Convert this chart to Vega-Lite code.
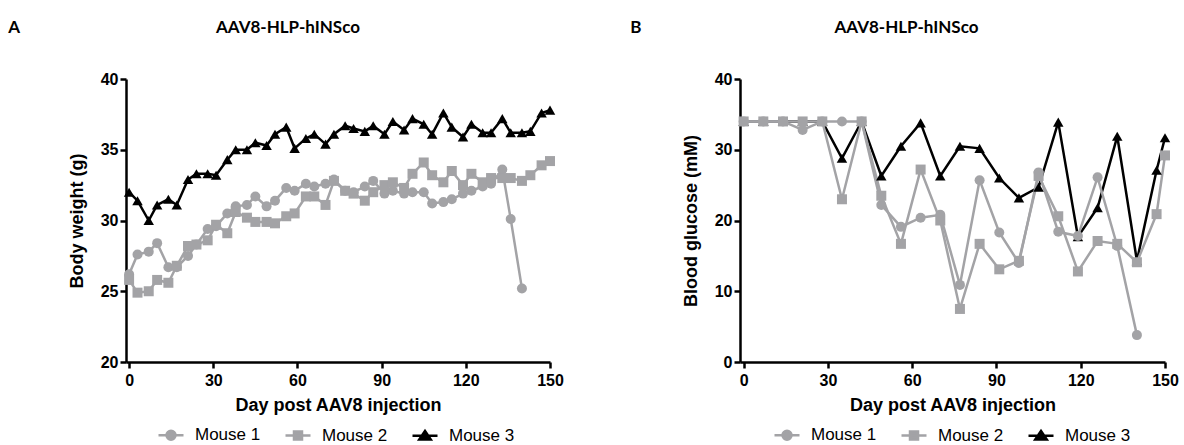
{
  "$schema": "https://vega.github.io/schema/vega-lite/v6.json",
  "padding": {"left": 8, "top": 19, "right": 5, "bottom": 5},
  "background": "white",
  "config": {
    "view": {"stroke": null},
    "font": "Liberation Sans",
    "axis": {
      "grid": false,
      "domainColor": "black", "domainWidth": 2.5,
      "tickColor": "black", "tickWidth": 2.5, "tickSize": 6,
      "labelFont": "Liberation Sans", "labelFontWeight": "bold", "labelFontSize": 16, "labelColor": "black",
      "titleFont": "Liberation Sans", "titleFontWeight": "bold", "titleFontSize": 18, "titleColor": "black"
    },
    "axisX": {"labelPadding": 4, "titlePadding": 8, "labelFlush": false},
    "axisY": {"labelPadding": 2, "titlePadding": 14},
    "legend": {"orient": "none", "direction": "horizontal", "title": null, "padding": 0,
               "symbolSize": 625, "symbolStrokeWidth": 2.5, "labelFontSize": 17, "labelFont": "Liberation Sans", "labelColor": "black",
               "labelOffset": 10, "columnPadding": 19},
    "title": {"font": "Lato", "fontWeight": "bold", "fontSize": 17, "color": "black"}
  },
  "datasets": {
    "weight": [
      {"day": 0, "mouse": "Mouse 3", "value": 32.0}, {"day": 3, "mouse": "Mouse 3", "value": 31.4}, {"day": 7, "mouse": "Mouse 3", "value": 30.0}, {"day": 10, "mouse": "Mouse 3", "value": 31.1}, {"day": 14, "mouse": "Mouse 3", "value": 31.5}, {"day": 17, "mouse": "Mouse 3", "value": 31.1}, {"day": 21, "mouse": "Mouse 3", "value": 32.9}, {"day": 24, "mouse": "Mouse 3", "value": 33.3}, {"day": 28, "mouse": "Mouse 3", "value": 33.3}, {"day": 31, "mouse": "Mouse 3", "value": 33.2}, {"day": 35, "mouse": "Mouse 3", "value": 34.3}, {"day": 38, "mouse": "Mouse 3", "value": 35.0}, {"day": 42, "mouse": "Mouse 3", "value": 35.0}, {"day": 45, "mouse": "Mouse 3", "value": 35.5}, {"day": 49, "mouse": "Mouse 3", "value": 35.3}, {"day": 52, "mouse": "Mouse 3", "value": 36.1}, {"day": 56, "mouse": "Mouse 3", "value": 36.6}, {"day": 59, "mouse": "Mouse 3", "value": 35.1}, {"day": 63, "mouse": "Mouse 3", "value": 35.8}, {"day": 66, "mouse": "Mouse 3", "value": 36.1}, {"day": 70, "mouse": "Mouse 3", "value": 35.4}, {"day": 73, "mouse": "Mouse 3", "value": 36.1}, {"day": 77, "mouse": "Mouse 3", "value": 36.7}, {"day": 80, "mouse": "Mouse 3", "value": 36.5}, {"day": 84, "mouse": "Mouse 3", "value": 36.3}, {"day": 87, "mouse": "Mouse 3", "value": 36.7}, {"day": 91, "mouse": "Mouse 3", "value": 36.1}, {"day": 94, "mouse": "Mouse 3", "value": 37.0}, {"day": 98, "mouse": "Mouse 3", "value": 36.4}, {"day": 101, "mouse": "Mouse 3", "value": 37.2}, {"day": 105, "mouse": "Mouse 3", "value": 36.8}, {"day": 108, "mouse": "Mouse 3", "value": 36.1}, {"day": 112, "mouse": "Mouse 3", "value": 37.6}, {"day": 115, "mouse": "Mouse 3", "value": 36.6}, {"day": 119, "mouse": "Mouse 3", "value": 35.9}, {"day": 122, "mouse": "Mouse 3", "value": 36.8}, {"day": 126, "mouse": "Mouse 3", "value": 36.2}, {"day": 129, "mouse": "Mouse 3", "value": 36.2}, {"day": 133, "mouse": "Mouse 3", "value": 37.2}, {"day": 136, "mouse": "Mouse 3", "value": 36.2}, {"day": 140, "mouse": "Mouse 3", "value": 36.2}, {"day": 143, "mouse": "Mouse 3", "value": 36.3}, {"day": 147, "mouse": "Mouse 3", "value": 37.6}, {"day": 150, "mouse": "Mouse 3", "value": 37.8},
      {"day": 0, "mouse": "Mouse 2", "value": 25.8}, {"day": 3, "mouse": "Mouse 2", "value": 24.9}, {"day": 7, "mouse": "Mouse 2", "value": 25.0}, {"day": 10, "mouse": "Mouse 2", "value": 25.8}, {"day": 14, "mouse": "Mouse 2", "value": 25.6}, {"day": 17, "mouse": "Mouse 2", "value": 26.8}, {"day": 21, "mouse": "Mouse 2", "value": 28.2}, {"day": 24, "mouse": "Mouse 2", "value": 28.3}, {"day": 28, "mouse": "Mouse 2", "value": 28.6}, {"day": 31, "mouse": "Mouse 2", "value": 29.7}, {"day": 35, "mouse": "Mouse 2", "value": 29.1}, {"day": 38, "mouse": "Mouse 2", "value": 30.6}, {"day": 42, "mouse": "Mouse 2", "value": 30.2}, {"day": 45, "mouse": "Mouse 2", "value": 29.9}, {"day": 49, "mouse": "Mouse 2", "value": 29.9}, {"day": 52, "mouse": "Mouse 2", "value": 29.8}, {"day": 56, "mouse": "Mouse 2", "value": 30.3}, {"day": 59, "mouse": "Mouse 2", "value": 30.5}, {"day": 63, "mouse": "Mouse 2", "value": 31.7}, {"day": 66, "mouse": "Mouse 2", "value": 31.7}, {"day": 70, "mouse": "Mouse 2", "value": 31.1}, {"day": 73, "mouse": "Mouse 2", "value": 32.8}, {"day": 77, "mouse": "Mouse 2", "value": 32.1}, {"day": 80, "mouse": "Mouse 2", "value": 31.9}, {"day": 84, "mouse": "Mouse 2", "value": 31.4}, {"day": 87, "mouse": "Mouse 2", "value": 32.0}, {"day": 91, "mouse": "Mouse 2", "value": 32.5}, {"day": 94, "mouse": "Mouse 2", "value": 32.7}, {"day": 98, "mouse": "Mouse 2", "value": 32.3}, {"day": 101, "mouse": "Mouse 2", "value": 33.3}, {"day": 105, "mouse": "Mouse 2", "value": 34.1}, {"day": 108, "mouse": "Mouse 2", "value": 33.2}, {"day": 112, "mouse": "Mouse 2", "value": 32.7}, {"day": 115, "mouse": "Mouse 2", "value": 33.5}, {"day": 119, "mouse": "Mouse 2", "value": 32.5}, {"day": 122, "mouse": "Mouse 2", "value": 33.3}, {"day": 126, "mouse": "Mouse 2", "value": 32.7}, {"day": 129, "mouse": "Mouse 2", "value": 33.0}, {"day": 133, "mouse": "Mouse 2", "value": 33.0}, {"day": 136, "mouse": "Mouse 2", "value": 33.0}, {"day": 140, "mouse": "Mouse 2", "value": 32.8}, {"day": 143, "mouse": "Mouse 2", "value": 33.2}, {"day": 147, "mouse": "Mouse 2", "value": 33.9}, {"day": 150, "mouse": "Mouse 2", "value": 34.2},
      {"day": 0, "mouse": "Mouse 1", "value": 26.2}, {"day": 3, "mouse": "Mouse 1", "value": 27.6}, {"day": 7, "mouse": "Mouse 1", "value": 27.8}, {"day": 10, "mouse": "Mouse 1", "value": 28.4}, {"day": 14, "mouse": "Mouse 1", "value": 26.7}, {"day": 17, "mouse": "Mouse 1", "value": 26.7}, {"day": 21, "mouse": "Mouse 1", "value": 27.5}, {"day": 24, "mouse": "Mouse 1", "value": 28.3}, {"day": 28, "mouse": "Mouse 1", "value": 29.4}, {"day": 31, "mouse": "Mouse 1", "value": 29.6}, {"day": 35, "mouse": "Mouse 1", "value": 30.5}, {"day": 38, "mouse": "Mouse 1", "value": 31.0}, {"day": 42, "mouse": "Mouse 1", "value": 31.1}, {"day": 45, "mouse": "Mouse 1", "value": 31.7}, {"day": 49, "mouse": "Mouse 1", "value": 31.0}, {"day": 52, "mouse": "Mouse 1", "value": 31.4}, {"day": 56, "mouse": "Mouse 1", "value": 32.3}, {"day": 59, "mouse": "Mouse 1", "value": 32.1}, {"day": 63, "mouse": "Mouse 1", "value": 32.6}, {"day": 66, "mouse": "Mouse 1", "value": 32.4}, {"day": 70, "mouse": "Mouse 1", "value": 32.6}, {"day": 73, "mouse": "Mouse 1", "value": 32.9}, {"day": 77, "mouse": "Mouse 1", "value": 32.1}, {"day": 80, "mouse": "Mouse 1", "value": 32.0}, {"day": 84, "mouse": "Mouse 1", "value": 32.4}, {"day": 87, "mouse": "Mouse 1", "value": 32.8}, {"day": 91, "mouse": "Mouse 1", "value": 31.9}, {"day": 94, "mouse": "Mouse 1", "value": 32.1}, {"day": 98, "mouse": "Mouse 1", "value": 31.9}, {"day": 101, "mouse": "Mouse 1", "value": 32.0}, {"day": 105, "mouse": "Mouse 1", "value": 32.0}, {"day": 108, "mouse": "Mouse 1", "value": 31.2}, {"day": 112, "mouse": "Mouse 1", "value": 31.3}, {"day": 115, "mouse": "Mouse 1", "value": 31.5}, {"day": 119, "mouse": "Mouse 1", "value": 31.9}, {"day": 122, "mouse": "Mouse 1", "value": 32.1}, {"day": 126, "mouse": "Mouse 1", "value": 32.4}, {"day": 129, "mouse": "Mouse 1", "value": 32.6}, {"day": 133, "mouse": "Mouse 1", "value": 33.6}, {"day": 136, "mouse": "Mouse 1", "value": 30.1}, {"day": 140, "mouse": "Mouse 1", "value": 25.2}
    ],
    "glucose": [
      {"day": 0, "mouse": "Mouse 3", "value": 34}, {"day": 7, "mouse": "Mouse 3", "value": 34}, {"day": 14, "mouse": "Mouse 3", "value": 34}, {"day": 21, "mouse": "Mouse 3", "value": 34}, {"day": 28, "mouse": "Mouse 3", "value": 34}, {"day": 35, "mouse": "Mouse 3", "value": 28.8}, {"day": 42, "mouse": "Mouse 3", "value": 34}, {"day": 49, "mouse": "Mouse 3", "value": 26.3}, {"day": 56, "mouse": "Mouse 3", "value": 30.5}, {"day": 63, "mouse": "Mouse 3", "value": 33.8}, {"day": 70, "mouse": "Mouse 3", "value": 26.3}, {"day": 77, "mouse": "Mouse 3", "value": 30.5}, {"day": 84, "mouse": "Mouse 3", "value": 30.2}, {"day": 91, "mouse": "Mouse 3", "value": 26.0}, {"day": 98, "mouse": "Mouse 3", "value": 23.2}, {"day": 105, "mouse": "Mouse 3", "value": 24.7}, {"day": 112, "mouse": "Mouse 3", "value": 33.9}, {"day": 119, "mouse": "Mouse 3", "value": 17.7}, {"day": 126, "mouse": "Mouse 3", "value": 21.8}, {"day": 133, "mouse": "Mouse 3", "value": 31.9}, {"day": 140, "mouse": "Mouse 3", "value": 14.3}, {"day": 147, "mouse": "Mouse 3", "value": 27.1}, {"day": 150, "mouse": "Mouse 3", "value": 31.7},
      {"day": 0, "mouse": "Mouse 1", "value": 34}, {"day": 7, "mouse": "Mouse 1", "value": 34}, {"day": 14, "mouse": "Mouse 1", "value": 34}, {"day": 21, "mouse": "Mouse 1", "value": 32.8}, {"day": 28, "mouse": "Mouse 1", "value": 34}, {"day": 35, "mouse": "Mouse 1", "value": 34}, {"day": 42, "mouse": "Mouse 1", "value": 34}, {"day": 49, "mouse": "Mouse 1", "value": 22.2}, {"day": 56, "mouse": "Mouse 1", "value": 19.1}, {"day": 63, "mouse": "Mouse 1", "value": 20.4}, {"day": 70, "mouse": "Mouse 1", "value": 20.8}, {"day": 77, "mouse": "Mouse 1", "value": 10.9}, {"day": 84, "mouse": "Mouse 1", "value": 25.7}, {"day": 91, "mouse": "Mouse 1", "value": 18.3}, {"day": 98, "mouse": "Mouse 1", "value": 14.0}, {"day": 105, "mouse": "Mouse 1", "value": 26.8}, {"day": 112, "mouse": "Mouse 1", "value": 18.4}, {"day": 119, "mouse": "Mouse 1", "value": 17.8}, {"day": 126, "mouse": "Mouse 1", "value": 26.1}, {"day": 133, "mouse": "Mouse 1", "value": 16.4}, {"day": 140, "mouse": "Mouse 1", "value": 3.8},
      {"day": 0, "mouse": "Mouse 2", "value": 34}, {"day": 7, "mouse": "Mouse 2", "value": 34}, {"day": 14, "mouse": "Mouse 2", "value": 34}, {"day": 21, "mouse": "Mouse 2", "value": 34}, {"day": 28, "mouse": "Mouse 2", "value": 34}, {"day": 35, "mouse": "Mouse 2", "value": 23.0}, {"day": 42, "mouse": "Mouse 2", "value": 34}, {"day": 49, "mouse": "Mouse 2", "value": 23.5}, {"day": 56, "mouse": "Mouse 2", "value": 16.7}, {"day": 63, "mouse": "Mouse 2", "value": 27.2}, {"day": 70, "mouse": "Mouse 2", "value": 20.0}, {"day": 77, "mouse": "Mouse 2", "value": 7.5}, {"day": 84, "mouse": "Mouse 2", "value": 16.7}, {"day": 91, "mouse": "Mouse 2", "value": 13.1}, {"day": 98, "mouse": "Mouse 2", "value": 14.3}, {"day": 105, "mouse": "Mouse 2", "value": 26.3}, {"day": 112, "mouse": "Mouse 2", "value": 20.6}, {"day": 119, "mouse": "Mouse 2", "value": 12.8}, {"day": 126, "mouse": "Mouse 2", "value": 17.1}, {"day": 133, "mouse": "Mouse 2", "value": 16.7}, {"day": 140, "mouse": "Mouse 2", "value": 14.1}, {"day": 147, "mouse": "Mouse 2", "value": 20.9}, {"day": 150, "mouse": "Mouse 2", "value": 29.2}
    ]
  },
  "spacing": 66,
  "resolve": {
    "scale": {"x": "independent", "y": "independent", "color": "independent"},
    "legend": {"color": "independent"}
  },
  "hconcat": [
    {
      "title": {"text": "A", "anchor": "start", "dx": -60, "dy": 22, "fontSize": 17},
      "vconcat": [
        {
          "title": {"text": "AAV8-HLP-hINSco", "dx": -50, "offset": 34},
          "width": 424, "height": 283,
          "data": {"name": "weight"},
          "encoding": {
            "x": {"field": "day", "type": "quantitative", "title": "Day post AAV8 injection",
                  "scale": {"domain": [-1.1, 150], "nice": false, "zero": false},
                  "axis": {"values": [0, 30, 60, 90, 120, 150]}},
            "y": {"field": "value", "type": "quantitative", "title": "Body weight (g)",
                  "scale": {"domain": [20, 40], "nice": false, "zero": false},
                  "axis": {"values": [20, 25, 30, 35, 40]}},
            "color": {"field": "mouse", "type": "nominal",
                      "scale": {"domain": ["Mouse 1", "Mouse 2", "Mouse 3"], "range": ["#a3a3a6", "#a3a3a6", "#000000"]},
                      "legend": {"legendX": 31, "legendY": 342, "encode": {"symbols": {"update": {
                        "shape": {"signal": "datum.value === 'Mouse 1' ? 'M-1,0H1M0.36,0A0.36,0.36,0,1,1,-0.36,0A0.36,0.36,0,1,1,0.36,0Z' : datum.value === 'Mouse 2' ? 'M-1,0H1M-0.32,-0.32H0.32V0.32H-0.32Z' : 'M-1,0H1M0,-0.38L0.46,0.3H-0.46Z'"},
                        "fill": {"signal": "datum.value === 'Mouse 3' ? '#000000' : '#a3a3a6'"},
                        "stroke": {"signal": "datum.value === 'Mouse 3' ? '#000000' : '#a3a3a6'"},
                        "opacity": {"value": 1}
                      }}}}}
          },
          "layer": [
            {"mark": {"type": "line", "strokeWidth": 2.5}},
            {"transform": [{"filter": "datum.mouse === 'Mouse 3'"}], "mark": {"type": "point", "filled": true, "opacity": 1, "size": 110, "shape": "triangle-up"}},
            {"transform": [{"filter": "datum.mouse === 'Mouse 1'"}], "mark": {"type": "point", "filled": true, "opacity": 1, "size": 100, "shape": "circle"}},
            {"transform": [{"filter": "datum.mouse === 'Mouse 2'"}], "mark": {"type": "point", "filled": true, "opacity": 1, "size": 100, "shape": "square"}}
          ]
        }
      ]
    },
    {
      "title": {"text": "B", "anchor": "start", "dx": -52, "dy": 22, "fontSize": 17},
      "vconcat": [
        {
          "title": {"text": "AAV8-HLP-hINSco", "dx": -46, "offset": 34},
          "width": 425, "height": 283,
          "data": {"name": "glucose"},
          "encoding": {
            "x": {"field": "day", "type": "quantitative", "title": "Day post AAV8 injection",
                  "scale": {"domain": [-1.3, 150], "nice": false, "zero": false},
                  "axis": {"values": [0, 30, 60, 90, 120, 150]}},
            "y": {"field": "value", "type": "quantitative", "title": "Blood glucose (mM)",
                  "scale": {"domain": [0, 40], "nice": false},
                  "axis": {"values": [0, 10, 20, 30, 40]}},
            "color": {"field": "mouse", "type": "nominal",
                      "scale": {"domain": ["Mouse 1", "Mouse 2", "Mouse 3"], "range": ["#a3a3a6", "#a3a3a6", "#000000"]},
                      "legend": {"legendX": 33, "legendY": 342, "encode": {"symbols": {"update": {
                        "shape": {"signal": "datum.value === 'Mouse 1' ? 'M-1,0H1M0.36,0A0.36,0.36,0,1,1,-0.36,0A0.36,0.36,0,1,1,0.36,0Z' : datum.value === 'Mouse 2' ? 'M-1,0H1M-0.32,-0.32H0.32V0.32H-0.32Z' : 'M-1,0H1M0,-0.38L0.46,0.3H-0.46Z'"},
                        "fill": {"signal": "datum.value === 'Mouse 3' ? '#000000' : '#a3a3a6'"},
                        "stroke": {"signal": "datum.value === 'Mouse 3' ? '#000000' : '#a3a3a6'"},
                        "opacity": {"value": 1}
                      }}}}}
          },
          "layer": [
            {"mark": {"type": "line", "strokeWidth": 2.5}},
            {"transform": [{"filter": "datum.mouse === 'Mouse 3'"}], "mark": {"type": "point", "filled": true, "opacity": 1, "size": 110, "shape": "triangle-up"}},
            {"transform": [{"filter": "datum.mouse === 'Mouse 1'"}], "mark": {"type": "point", "filled": true, "opacity": 1, "size": 100, "shape": "circle"}},
            {"transform": [{"filter": "datum.mouse === 'Mouse 2'"}], "mark": {"type": "point", "filled": true, "opacity": 1, "size": 100, "shape": "square"}}
          ]
        }
      ]
    }
  ]
}
